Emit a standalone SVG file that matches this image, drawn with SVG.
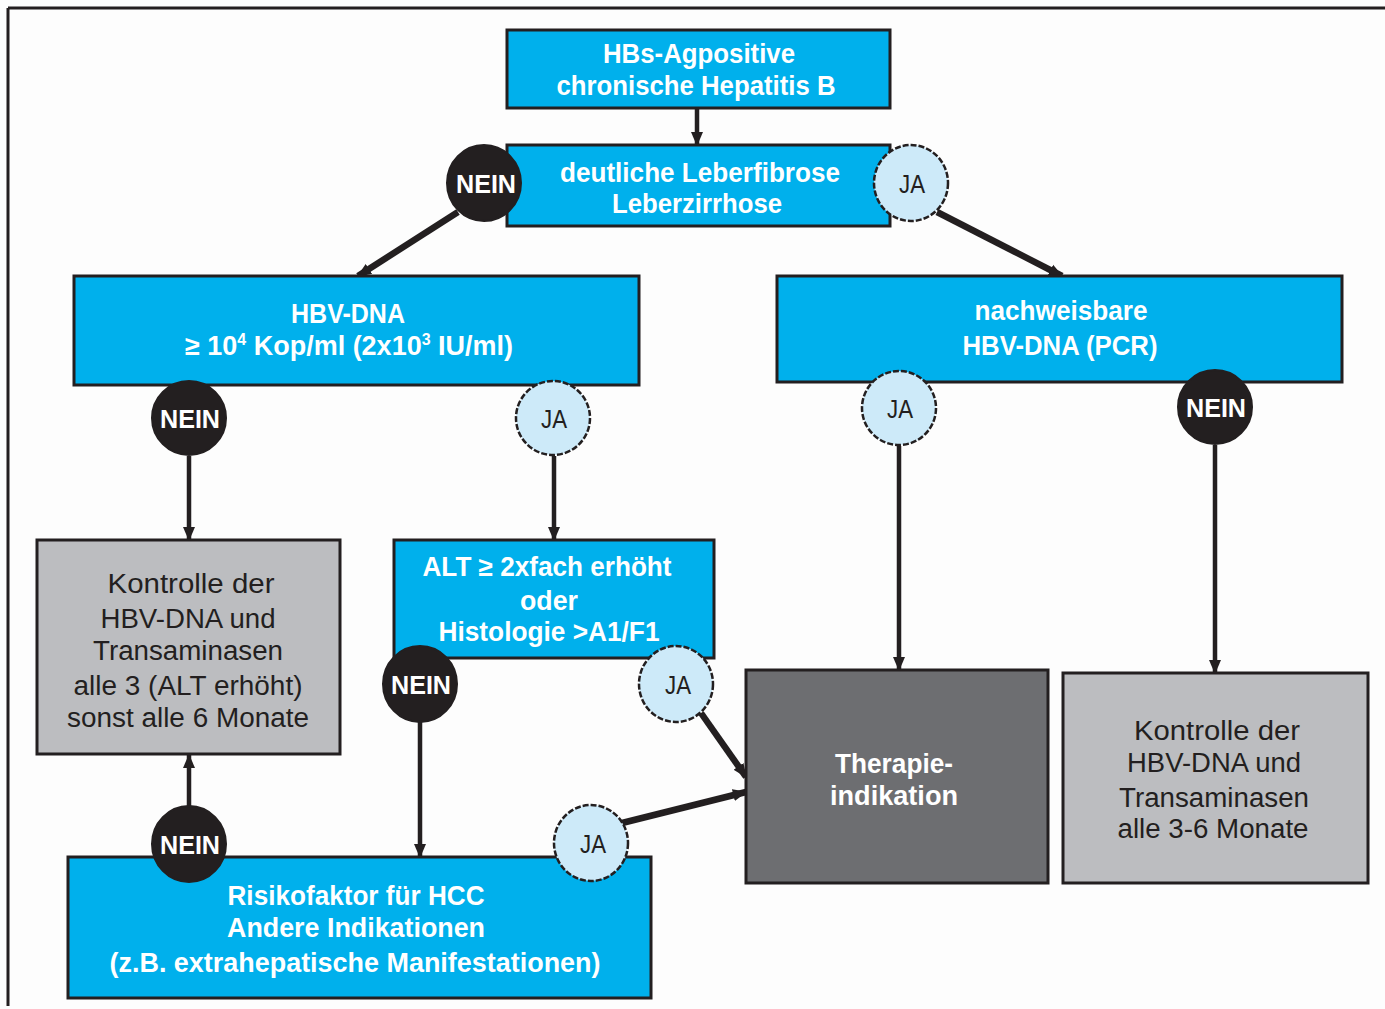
<svg xmlns="http://www.w3.org/2000/svg" width="1385" height="1009" viewBox="0 0 1385 1009">
<style>
.box{stroke:#231f20;stroke-width:3}
.blue{fill:#00b0ec}
.gray{fill:#bcbdc0}
.dark{fill:#6d6e71}
.tw{font-family:"Liberation Sans",Arial,sans-serif;font-size:27px;font-weight:bold;fill:#ffffff;text-anchor:middle}
.td{font-family:"Liberation Sans",Arial,sans-serif;font-size:27px;fill:#231f20;text-anchor:middle}
.nein{fill:#231f20;stroke:#231f20;stroke-width:2}
.ja{fill:#cdeaf9;stroke:#231f20;stroke-width:2.5;stroke-dasharray:6 2}
.ln{font-family:"Liberation Sans",Arial,sans-serif;font-size:26px;font-weight:bold;fill:#ffffff;text-anchor:middle}
.lj{font-family:"Liberation Sans",Arial,sans-serif;font-size:26px;fill:#231f20;text-anchor:middle}
.c{stroke:#231f20;stroke-width:4.5;fill:none;marker-end:url(#ah)}
.cd{stroke-width:6.5}
.sup{font-size:16px}
</style>
<defs>
<marker id="ah" markerUnits="userSpaceOnUse" markerWidth="14" markerHeight="14" viewBox="0 0 14 14" refX="13" refY="7" orient="auto">
<path d="M0,1 L14,7 L0,13 Z" fill="#231f20"/>
</marker>
</defs>
<rect x="0" y="0" width="1385" height="1009" fill="#fdfdfd"/>
<g id="frame" stroke="#231f20" stroke-width="3" fill="none">
<line x1="8" y1="8" x2="1385" y2="8"/>
<line x1="8" y1="8" x2="8" y2="1006"/>
</g>
<g id="connectors">
<line class="c" x1="697" y1="108" x2="697" y2="145"/>
<line class="c cd" x1="458" y1="212" x2="358" y2="276"/>
<line class="c cd" x1="937" y1="212" x2="1062" y2="276"/>
<line class="c" x1="189" y1="456" x2="189" y2="540"/>
<line class="c" x1="554" y1="456" x2="554" y2="540"/>
<line class="c" x1="899" y1="446" x2="899" y2="670"/>
<line class="c" x1="1215" y1="445" x2="1215" y2="673"/>
<line class="c" x1="420" y1="722" x2="420" y2="857"/>
<line class="c cd" x1="701" y1="713" x2="746" y2="777"/>
<line class="c" x1="189" y1="806" x2="189" y2="755"/>
<line class="c cd" x1="622" y1="823" x2="746" y2="792"/>
</g>
<g id="n-start">
<rect class="box blue" x="507" y="30" width="383" height="78"/>
<text class="tw" x="699" y="63" textLength="192" lengthAdjust="spacingAndGlyphs">HBs-Agpositive</text>
<text class="tw" x="696" y="95" textLength="279" lengthAdjust="spacingAndGlyphs">chronische Hepatitis B</text>
</g>
<g id="n-fibrose">
<rect class="box blue" x="507" y="145" width="383" height="81"/>
<text class="tw" x="700" y="182" textLength="280" lengthAdjust="spacingAndGlyphs">deutliche Leberfibrose</text>
<text class="tw" x="697" y="213" textLength="170" lengthAdjust="spacingAndGlyphs">Leberzirrhose</text>
</g>
<g id="n-hbvdna">
<rect class="box blue" x="74" y="276" width="565" height="109"/>
<text class="tw" x="348" y="323" textLength="114" lengthAdjust="spacingAndGlyphs">HBV-DNA</text>
<text class="tw" x="349" y="355" textLength="328" lengthAdjust="spacingAndGlyphs">≥ 10<tspan class="sup" dy="-10">4</tspan><tspan dy="10"> Kop/ml (2x10</tspan><tspan class="sup" dy="-10">3</tspan><tspan dy="10"> IU/ml)</tspan></text>
</g>
<g id="n-pcr">
<rect class="box blue" x="777" y="276" width="565" height="106"/>
<text class="tw" x="1061" y="320" textLength="173" lengthAdjust="spacingAndGlyphs">nachweisbare</text>
<text class="tw" x="1060" y="355" textLength="195" lengthAdjust="spacingAndGlyphs">HBV-DNA (PCR)</text>
</g>
<g id="n-kontrolle1">
<rect class="box gray" x="37" y="540" width="303" height="214"/>
<text class="td" x="191" y="593" textLength="167" lengthAdjust="spacingAndGlyphs">Kontrolle der</text>
<text class="td" x="188" y="628" textLength="175" lengthAdjust="spacingAndGlyphs">HBV-DNA und</text>
<text class="td" x="188" y="660" textLength="190" lengthAdjust="spacingAndGlyphs">Transaminasen</text>
<text class="td" x="188" y="695" textLength="229" lengthAdjust="spacingAndGlyphs">alle 3 (ALT erhöht)</text>
<text class="td" x="188" y="727" textLength="242" lengthAdjust="spacingAndGlyphs">sonst alle 6 Monate</text>
</g>
<g id="n-alt">
<rect class="box blue" x="394" y="540" width="320" height="118"/>
<text class="tw" x="547" y="576" textLength="249" lengthAdjust="spacingAndGlyphs">ALT ≥ 2xfach erhöht</text>
<text class="tw" x="549" y="610" textLength="58" lengthAdjust="spacingAndGlyphs">oder</text>
<text class="tw" x="549" y="641" textLength="221" lengthAdjust="spacingAndGlyphs">Histologie &gt;A1/F1</text>
</g>
<g id="n-risiko">
<rect class="box blue" x="68" y="857" width="583" height="141"/>
<text class="tw" x="356" y="905" textLength="257" lengthAdjust="spacingAndGlyphs">Risikofaktor für HCC</text>
<text class="tw" x="356" y="937" textLength="258" lengthAdjust="spacingAndGlyphs">Andere Indikationen</text>
<text class="tw" x="355" y="972" textLength="491" lengthAdjust="spacingAndGlyphs">(z.B. extrahepatische Manifestationen)</text>
</g>
<g id="n-therapie">
<rect class="box dark" x="746" y="670" width="302" height="213"/>
<text class="tw" x="894" y="773" textLength="118" lengthAdjust="spacingAndGlyphs">Therapie-</text>
<text class="tw" x="894" y="805" textLength="128" lengthAdjust="spacingAndGlyphs">indikation</text>
</g>
<g id="n-kontrolle2">
<rect class="box gray" x="1063" y="673" width="305" height="210"/>
<text class="td" x="1217" y="740" textLength="166" lengthAdjust="spacingAndGlyphs">Kontrolle der</text>
<text class="td" x="1214" y="772" textLength="174" lengthAdjust="spacingAndGlyphs">HBV-DNA und</text>
<text class="td" x="1214" y="807" textLength="190" lengthAdjust="spacingAndGlyphs">Transaminasen</text>
<text class="td" x="1213" y="838" textLength="191" lengthAdjust="spacingAndGlyphs">alle 3-6 Monate</text>
</g>
<g id="l-nein-fibrose">
<ellipse class="nein" cx="484" cy="183" rx="37" ry="38"/>
<text class="ln" x="486" y="193" textLength="60" lengthAdjust="spacingAndGlyphs">NEIN</text>
</g>
<g id="l-ja-fibrose">
<ellipse class="ja" cx="911" cy="183" rx="37" ry="38"/>
<text class="lj" x="912" y="193" textLength="26" lengthAdjust="spacingAndGlyphs">JA</text>
</g>
<g id="l-nein-hbvdna">
<ellipse class="nein" cx="189" cy="418" rx="37" ry="37"/>
<text class="ln" x="190" y="428" textLength="60" lengthAdjust="spacingAndGlyphs">NEIN</text>
</g>
<g id="l-ja-hbvdna">
<ellipse class="ja" cx="553" cy="418" rx="37" ry="37"/>
<text class="lj" x="554" y="428" textLength="26" lengthAdjust="spacingAndGlyphs">JA</text>
</g>
<g id="l-ja-pcr">
<ellipse class="ja" cx="899" cy="408" rx="37" ry="37"/>
<text class="lj" x="900" y="418" textLength="26" lengthAdjust="spacingAndGlyphs">JA</text>
</g>
<g id="l-nein-pcr">
<ellipse class="nein" cx="1215" cy="407" rx="37" ry="37"/>
<text class="ln" x="1216" y="417" textLength="60" lengthAdjust="spacingAndGlyphs">NEIN</text>
</g>
<g id="l-nein-alt">
<ellipse class="nein" cx="420" cy="684" rx="37" ry="38"/>
<text class="ln" x="421" y="694" textLength="60" lengthAdjust="spacingAndGlyphs">NEIN</text>
</g>
<g id="l-ja-alt">
<ellipse class="ja" cx="676" cy="684" rx="37" ry="38"/>
<text class="lj" x="678" y="694" textLength="26" lengthAdjust="spacingAndGlyphs">JA</text>
</g>
<g id="l-nein-risiko">
<ellipse class="nein" cx="189" cy="844" rx="37" ry="38"/>
<text class="ln" x="190" y="854" textLength="60" lengthAdjust="spacingAndGlyphs">NEIN</text>
</g>
<g id="l-ja-risiko">
<ellipse class="ja" cx="591" cy="843" rx="37" ry="38"/>
<text class="lj" x="593" y="853" textLength="26" lengthAdjust="spacingAndGlyphs">JA</text>
</g>
</svg>
